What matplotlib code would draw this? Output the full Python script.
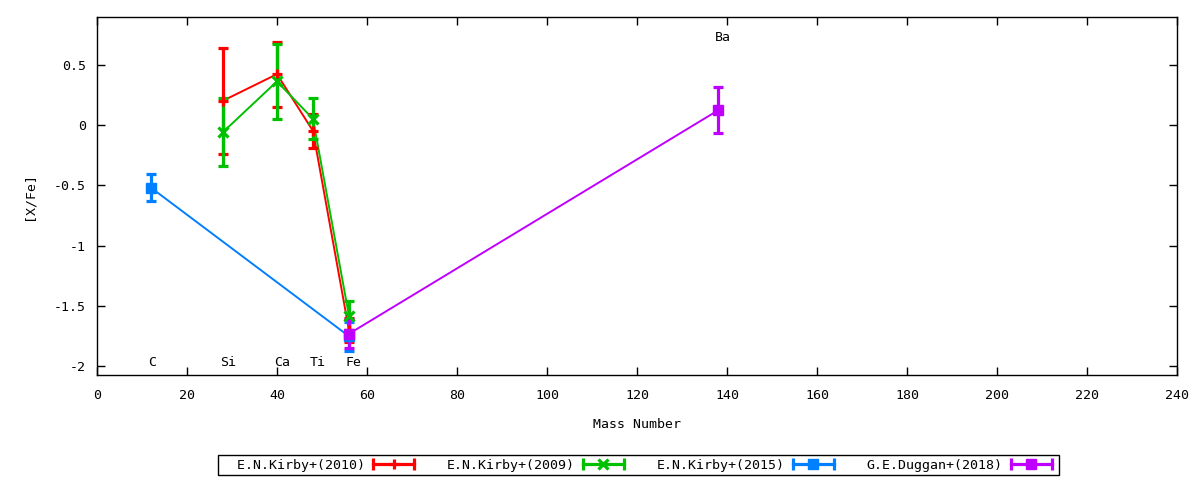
import matplotlib
matplotlib.use("Agg")
import matplotlib.pyplot as plt
from matplotlib.lines import Line2D
from matplotlib.legend_handler import HandlerLine2D, HandlerTuple

plt.rcParams['font.family'] = ['DejaVu Sans Mono']
plt.rcParams['font.size'] = 9.5

# data
kirby2010_x = [28, 40, 48, 56]
kirby2010_y = [0.20, 0.42, -0.05, -1.70]
kirby2010_err = [0.44, 0.27, 0.14, 0.10]

kirby2009_x = [28, 40, 48, 56]
kirby2009_y = [-0.06, 0.36, 0.05, -1.58]
kirby2009_err = [0.28, 0.31, 0.17, 0.12]

kirby2015_x = [12, 56]
kirby2015_y = [-0.52, -1.75]
kirby2015_err = [0.11, 0.12]

duggan2018_x = [56, 138]
duggan2018_y = [-1.73, 0.12]
duggan2018_err = [0.12, 0.19]

series_names = ["  E.N.Kirby+(2010)", "E.N.Kirby+(2009)",
                "E.N.Kirby+(2015)", "G.E.Duggan+(2018)"]

element_names = ["C", "Si", "Ca", "Ti", "Fe", "Ba"]
element_x = [12, 28, 40, 48, 56, 138]
element_y = [-1.97, -1.97, -1.97, -1.97, -1.97, 0.72]

colors = ["#ff0000", "#00c000", "#0080ff", "#c000ff"]
markers = ["+", "x", "s", "s"]

fig = plt.figure(figsize=(12, 4.8), dpi=100)
ax = fig.add_axes([0.0808, 0.219, 0.9, 0.745])

all_series = [
    (kirby2010_x, kirby2010_y, kirby2010_err),
    (kirby2009_x, kirby2009_y, kirby2009_err),
    (kirby2015_x, kirby2015_y, kirby2015_err),
    (duggan2018_x, duggan2018_y, duggan2018_err),
]

handles = []
hmap = {}
for (xs, ys, es), c, m in zip(all_series, colors, markers):
    ax.plot(xs, ys, color=c, lw=1.4, zorder=2)
    ax.errorbar(xs, ys, yerr=es, fmt='none', ecolor=c, elinewidth=2.3,
                capsize=3.6, capthick=2.3, zorder=3)
    mew = 2.3 if m in ("+", "x") else 1
    ax.plot(xs, ys, linestyle='none', marker=m, color=c, markersize=7,
            markeredgewidth=mew, zorder=4)

    # gnuplot-like legend sample: horizontal bar with caps, marker in middle
    bar = Line2D([], [], color=c, lw=2.3, marker='|', markersize=9,
                 markeredgewidth=2.3)
    mid = Line2D([], [], linestyle='none', color=c, marker=m, markersize=7,
                 markeredgewidth=mew)
    hmap[bar] = HandlerLine2D(numpoints=2, marker_pad=0.3)
    hmap[mid] = HandlerLine2D(numpoints=1)
    handles.append((bar, mid))

# element labels sit just left of their mass number
for name, xv, yv in zip(element_names, element_x, element_y):
    ax.text(xv - 0.7, yv, name, ha='left', va='center', fontsize=9.5)

ax.set_xlim(0, 240)
ax.set_ylim(-2.07, 0.891)
ax.set_xticks(range(0, 241, 20))
ax.set_yticks([0.5, 0, -0.5, -1, -1.5, -2])
ax.set_yticklabels(["0.5", "0", "-0.5", "-1", "-1.5", "-2"])
ax.tick_params(direction='in', top=True, right=True, length=6, width=1)
ax.tick_params(axis='x', pad=10)
ax.tick_params(axis='y', pad=8)
for s in ax.spines.values():
    s.set_linewidth(1)

ax.set_xlabel("Mass Number", labelpad=12)
ax.set_ylabel("[X/Fe]", labelpad=13)

hmap[tuple] = HandlerTuple(ndivide=1, pad=0)
leg = fig.legend(handles, series_names, handler_map=hmap, loc='center',
                 bbox_to_anchor=(0.532, 0.031), ncol=4, markerfirst=False,
                 frameon=True, fancybox=False, edgecolor='black',
                 framealpha=1, handlelength=3.7, columnspacing=2.2,
                 handletextpad=0.3, borderpad=0.25, borderaxespad=0)
leg.get_frame().set_linewidth(1)

fig.savefig("out.png", dpi=100)
